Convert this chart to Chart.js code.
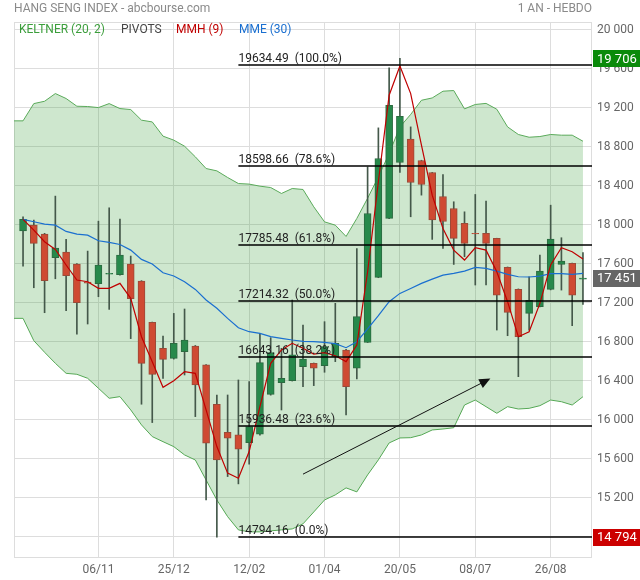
<!DOCTYPE html>
<html>
<head>
<meta charset="utf-8">
<script src="https://cdn.jsdelivr.net/npm/chart.js@4.4.1/dist/chart.umd.min.js"></script>
<style>
  html, body { margin: 0; padding: 0; background: #fff; }
</style>
</head>
<body>
<canvas id="myChart" width="640" height="580"></canvas>
<script>
// Semaines (bougies hebdo)
const weeks = ["18/09","25/09","02/10","09/10","16/10","23/10","30/10","06/11","13/11","20/11",
  "27/11","04/12","11/12","18/12","25/12","01/01","08/01","15/01","22/01","29/01",
  "05/02","12/02","19/02","26/02","04/03","11/03","18/03","25/03","01/04","08/04",
  "15/04","22/04","29/04","06/05","13/05","20/05","27/05","03/06","10/06","17/06",
  "24/06","01/07","08/07","15/07","22/07","29/07","05/08","12/08","19/08","26/08",
  "02/09","09/09","16/09"];
const tickDates = ["06/11","25/12","12/02","01/04","20/05","08/07","26/08"];

const openV = [17936,17994,17902,17660,17718,17595,17410,17393,17490,17485,
  17595,17421,16997,16731,16628,16696,16754,16560,16157,15870,
  15842,15764,15849,16259,16379,16399,16543,16577,16553,16645,
  16713,16526,16792,17458,18063,18637,18876,18657,18534,18288,
  18165,18012,17910,17909,17858,17561,17335,17089,17158,17335,
  17591,17602,17440];
const highV = [18080,18046,17910,18292,17848,17600,17728,18035,18172,18056,
  17677,17425,17000,16857,17089,17134,16760,16565,16252,16252,
  16406,16389,16884,16840,16731,17226,16970,16580,17004,17192,
  16720,17755,18592,18992,19607,19706,19002,18660,18535,18514,
  18234,18131,18309,18240,17860,17565,17340,17465,17687,18199,
  17865,17605,17714];
const lowV = [17574,17352,17096,17444,17117,16877,16980,17260,17130,17480,
  16830,16157,15969,16423,16620,16457,16030,15176,14794.16,15415,
  15340,15542,15840,16250,16098,16395,16338,16348,16485,16594,
  16047,16416,16790,17455,18060,18534,18080,18302,17848,17755,
  17591,17670,17380,17380,16918,16860,16440,16918,17155,17330,
  17328,16963,17181];
const closeV = [18053,17807,17424,17759,17475,17198,17400,17585,17500,17687,
  17240,16577,16464,16618,16782,16816,16354,15757,15586,15808,
  15695,15928,16584,16686,16423,16665,16621,16526,16748,16782,
  16338,17055,18114,18678,19224,19111,18432,18411,18049,18032,
  17858,17807,17905,17807,17277,17099,16850,17222,17523,17851,
  17625,17277,17451];

// Keltner (20, 2)
const keltnerUp = [19064,19241,19265,19344,19293,19214,19211,19200,19241,19190,
  19180,19071,19053,18907,18866,18804,18695,18575,18551,18483,
  18421,18415,18394,18380,18319,18370,18360,18182,18028,17994,
  17878,18063,18270,18489,18729,19002,19130,19275,19299,19368,
  19375,19187,19232,19243,19183,19002,18924,18896,18903,18924,
  18917,18917,18855];
const keltnerLow = [17038,16809,16690,16577,16474,16464,16423,16321,16218,16235,
  16099,15945,15825,15773,15722,15637,15585,15380,15175,15004,
  14868,14848,14848,14858,14868,14878,14930,15052,15175,15227,
  15299,15258,15432,15586,15760,15811,15814,15842,15893,15903,
  15916,16149,16200,16132,16064,16132,16108,16115,16142,16200,
  16183,16149,16234];
// MMH (9)
const mmh = [18053,17943,17824,17745,17585,17431,17414,17346,17346,17397,
  17243,16850,16594,16331,16399,16491,16474,16099,15723,15450,
  15398,15672,16133,16577,16714,16782,16731,16672,16686,16655,
  16594,16765,17516,18439,19327,19627,19344,18814,18302,17960,
  17738,17636,17762,17738,17516,17209,16850,16901,17192,17585,
  17762,17721,17646];
// MME (30)
const mme = [18053,18029,18005,17994,17930,17902,17892,17834,17817,17796,
  17738,17643,17595,17506,17472,17414,17335,17226,17141,17038,
  16942,16901,16884,16850,16833,16816,16802,16799,16792,16778,
  16737,16799,16929,17065,17209,17294,17345,17397,17441,17482,
  17499,17523,17561,17550,17523,17489,17465,17462,17472,17496,
  17496,17489,17499];

// Fibonacci
const fibValues = [19634.49, 18598.66, 17785.48, 17214.32, 16643.16, 15936.48, 14794.16];
const fibPct = ["100.0%", "78.6%", "61.8%", "50.0%", "38.2%", "23.6%", "0.0%"];
const fibStart = 20;

// Flèche de tendance
const trendX = [26, 43.4];
const trendY = [15440, 16420];

const yTicks = [14800,15200,15600,16000,16400,16800,17200,17600,18000,18400,18800,19200,19600,20000];
const xMin = -0.84, xMax = 52.84;
const yMin = 14590, yMax = 20078;

const markers = [
  { value: 19706, color: "#0a8a0a" },
  { value: 17451, color: "#666666" },
  { value: 14794, color: "#cc0000" },
];

const FONT = "Roboto, 'DejaVu Sans', sans-serif";

function fmt(v) {
  return Math.round(v).toString().replace(/\B(?=(\d{3})+(?!\d))/g, " ");
}

const isUp = closeV.map((c, i) => c >= openV[i]);

const bandUp = [{ x: xMin, y: keltnerUp[0] }].concat(keltnerUp.map((v, i) => ({ x: i, y: v })));
const bandLow = [{ x: xMin, y: keltnerLow[0] }].concat(keltnerLow.map((v, i) => ({ x: i, y: v })));

const overlay = {
  id: "overlay",
  beforeDatasetsDraw(chart) {
    const { ctx, chartArea: a } = chart;
    ctx.save();
    ctx.strokeStyle = "#dddddd";
    ctx.lineWidth = 1;
    ctx.strokeRect(a.left + 0.5, a.top + 0.5, a.right - a.left - 1, a.bottom - a.top);
    ctx.restore();
  },
  afterDatasetsDraw(chart) {
    const { ctx, chartArea: a, scales } = chart;
    const xs = scales.x, ys = scales.y;
    ctx.save();
    // lignes de Fibonacci
    const x0 = xs.getPixelForValue(fibStart);
    ctx.font = "12px " + FONT;
    ctx.textAlign = "left";
    ctx.textBaseline = "alphabetic";
    fibValues.forEach((v, i) => {
      const y = Math.round(ys.getPixelForValue(v));
      ctx.strokeStyle = "#000";
      ctx.lineWidth = 1.5;
      ctx.beginPath();
      ctx.moveTo(x0, y);
      ctx.lineTo(a.right, y);
      ctx.stroke();
      ctx.fillStyle = "#222";
      ctx.fillText(v.toFixed(2) + "  (" + fibPct[i] + ")", x0, y - 3);
    });
    // flèche
    const ax = xs.getPixelForValue(trendX[0]), ay = ys.getPixelForValue(trendY[0]);
    const bx = xs.getPixelForValue(trendX[1]), by = ys.getPixelForValue(trendY[1]);
    const ang = Math.atan2(by - ay, bx - ax);
    ctx.strokeStyle = "#111";
    ctx.lineWidth = 1;
    ctx.beginPath();
    ctx.moveTo(ax, ay);
    ctx.lineTo(bx - 8 * Math.cos(ang), by - 8 * Math.sin(ang));
    ctx.stroke();
    ctx.fillStyle = "#111";
    ctx.beginPath();
    ctx.moveTo(bx, by);
    ctx.lineTo(bx - 11 * Math.cos(ang) + 5 * Math.sin(ang), by - 11 * Math.sin(ang) - 5 * Math.cos(ang));
    ctx.lineTo(bx - 11 * Math.cos(ang) - 5 * Math.sin(ang), by - 11 * Math.sin(ang) + 5 * Math.cos(ang));
    ctx.closePath();
    ctx.fill();
    ctx.restore();
  },
  afterDraw(chart) {
    const { ctx, chartArea: a, scales } = chart;
    const ys = scales.y;
    ctx.save();
    ctx.textBaseline = "middle";
    // titre
    ctx.fillStyle = "#8a8a8a";
    ctx.textAlign = "left";
    ctx.font = "12px " + FONT;
    ctx.fillText("HANG SENG INDEX - abcbourse.com", 14, 9);
    ctx.textAlign = "right";
    ctx.fillText("1 AN - HEBDO", a.right, 9);
    // légende
    ctx.textAlign = "left";
    const leg = [["KELTNER (20, 2)", "#3c9e3c", 19], ["PIVOTS", "#444", 121], ["MMH (9)", "#c00000", 176], ["MME (30)", "#1a6fd0", 239]];
    leg.forEach(([t, c, x]) => { ctx.fillStyle = c; ctx.fillText(t, x, 29.5); });
    // étiquettes de l'axe droit
    ctx.font = "13px " + FONT;
    markers.forEach(m => {
      const y = ys.getPixelForValue(m.value);
      ctx.fillStyle = m.color;
      ctx.fillRect(a.right + 1, Math.round(y - 8), chart.width - a.right - 1, 17);
      ctx.fillStyle = "#fff";
      ctx.fillText(fmt(m.value), a.right + 5, y + 1);
    });
    ctx.restore();
  }
};

const chartElement = document.getElementById("myChart");
const myChart = new Chart(chartElement, {
  type: "bar",
  data: {
    datasets: [
      {
        type: "line", data: bandUp, borderColor: "#5aaa5a", borderWidth: 1,
        backgroundColor: "rgba(60,160,60,0.25)", fill: "+1", pointRadius: 0, tension: 0, order: 6,
      },
      {
        type: "line", data: bandLow, borderColor: "#5aaa5a", borderWidth: 1,
        fill: false, pointRadius: 0, tension: 0, order: 6,
      },
      {
        label: "wicks",
        data: lowV.map((l, i) => ({ x: i, y: [l, highV[i]] })),
        backgroundColor: "#44584a", borderWidth: 0, barThickness: 1, grouped: false, order: 5,
      },
      {
        label: "bodies",
        data: openV.map((o, i) => ({ x: i, y: [o, closeV[i]] })),
        backgroundColor: isUp.map(u => (u ? "#27894b" : "#cf4a32")),
        borderColor: isUp.map(u => (u ? "#2b6b40" : "#9a4a38")),
        borderWidth: 1, borderSkipped: false, barThickness: 7, grouped: false, order: 4,
      },
      {
        type: "line", data: mme.map((v, i) => ({ x: i, y: v })), borderColor: "#1a6fd0",
        borderWidth: 1.2, pointRadius: 0, tension: 0, fill: false, order: 2,
      },
      {
        type: "line", data: mmh.map((v, i) => ({ x: i, y: v })), borderColor: "#c00000",
        borderWidth: 1.2, pointRadius: 0, tension: 0, fill: false, order: 1,
      },
    ],
  },
  options: {
    responsive: false,
    animation: false,
    layout: { padding: { left: 14, top: 22, right: 0, bottom: 0 } },
    plugins: { legend: { display: false }, tooltip: { enabled: false } },
    scales: {
      x: {
        type: "linear",
        min: xMin,
        max: xMax,
        offset: false,
        afterBuildTicks: (s) => { s.ticks = tickDates.map(d => ({ value: weeks.indexOf(d) })); },
        afterFit: (s) => { s.height = 23; },
        grid: { color: "#dddddd", drawTicks: false, offset: false },
        border: { display: false },
        ticks: {
          autoSkip: false, maxRotation: 0, padding: 6, color: "#666",
          font: { family: FONT, size: 12 },
          callback: (v) => weeks[v],
        },
      },
      y: {
        position: "right",
        min: yMin,
        max: yMax,
        afterBuildTicks: (s) => { s.ticks = yTicks.map(v => ({ value: v })); },
        afterFit: (s) => { s.width = 48; },
        grid: { color: "#dddddd", drawTicks: false },
        border: { display: false },
        ticks: {
          padding: 5, color: "#666",
          font: { family: FONT, size: 12 },
          callback: (v) => fmt(v),
        },
      },
    },
  },
  plugins: [overlay],
});
</script>
</body>
</html>
